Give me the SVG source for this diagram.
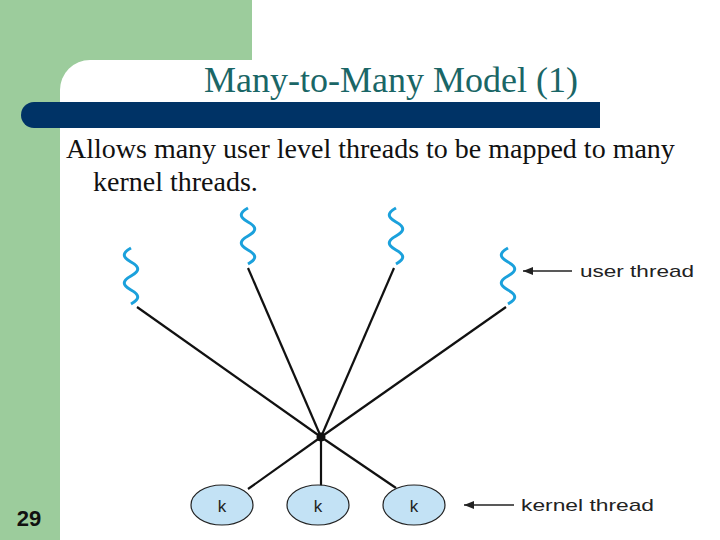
<svg xmlns="http://www.w3.org/2000/svg" width="720" height="540" viewBox="0 0 720 540">
<defs>
<style>
.sq{fill:none;stroke:#1ba1dc;stroke-width:3}
.ln{stroke:#111;stroke-width:2.2}
.kn{fill:#c3e2f5;stroke:#222;stroke-width:1.2}
.lbl{font-family:"Liberation Sans",Arial,sans-serif;font-size:17px;fill:#222}
</style>
<marker id="ah" markerWidth="10" markerHeight="8" refX="10" refY="4" orient="auto" markerUnits="userSpaceOnUse"><path d="M0,0 L10,4 L0,8 Z" fill="#222"/></marker>
<path id="w" class="sq" d="M0,0 c-9,5 -9,9 0,14 c9,5 9,9 0,14 c-9,5 -9,9 0,14 c9,5 9,9 0,14"/>
</defs>
<rect width="720" height="540" fill="#fff"/>
<rect x="0" y="0" width="252" height="60" fill="#9ccc9c"/>
<rect x="0" y="0" width="60" height="540" fill="#9ccc9c"/>
<rect x="60" y="60" width="40" height="40" fill="#9ccc9c"/>
<rect x="60" y="60" width="200" height="60" rx="30" fill="#fff"/>
<rect x="60" y="90" width="600" height="40" fill="#fff"/>
<path d="M34,102 H600 V128 H34 A13,13 0 0 1 34,102 Z" fill="#003366"/>
<text x="391" y="92" text-anchor="middle" font-family="Liberation Serif,serif" font-size="36" fill="#1a6666">Many-to-Many Model (1)</text>
<text font-family="Liberation Serif,serif" font-size="28" fill="#111"><tspan x="66" y="158">Allows many user level threads to be mapped to many</tspan><tspan x="93" y="191">kernel threads.</tspan></text>
<text x="29" y="526" text-anchor="middle" font-family="Liberation Sans,Arial,sans-serif" font-size="22" font-weight="bold" fill="#111">29</text>
<g id="connectors">
<line class="ln" x1="137" y1="307" x2="321" y2="437"/>
<line class="ln" x1="248" y1="268" x2="321" y2="437"/>
<line class="ln" x1="394" y1="268" x2="321" y2="437"/>
<line class="ln" x1="506" y1="307" x2="321" y2="437"/>
<line class="ln" x1="321" y1="437" x2="248" y2="489"/>
<line class="ln" x1="321" y1="437" x2="321" y2="486"/>
<line class="ln" x1="321" y1="437" x2="396" y2="488"/>
<circle cx="321" cy="437" r="4.5" fill="#111"/>
<line x1="572" y1="271" x2="523" y2="271" stroke="#222" stroke-width="1.5" marker-end="url(#ah)"/>
<line x1="514" y1="505" x2="464" y2="505" stroke="#222" stroke-width="1.5" marker-end="url(#ah)"/>
</g>
<g id="user-threads">
<use href="#w" x="131" y="248"/>
<use href="#w" x="248" y="208"/>
<use href="#w" x="396" y="208"/>
<use href="#w" x="508" y="248"/>
<text class="lbl" x="580" y="277" textLength="114" lengthAdjust="spacingAndGlyphs">user thread</text>
</g>
<g id="k1"><ellipse class="kn" cx="222" cy="505" rx="31" ry="20"/><text class="lbl" x="222" y="512" text-anchor="middle" font-size="20">k</text></g>
<g id="k2"><ellipse class="kn" cx="318" cy="505" rx="31" ry="20"/><text class="lbl" x="318" y="512" text-anchor="middle" font-size="20">k</text></g>
<g id="k3"><ellipse class="kn" cx="414" cy="505" rx="31" ry="20"/><text class="lbl" x="414" y="512" text-anchor="middle" font-size="20">k</text></g>
<text class="lbl" x="521" y="511" textLength="133" lengthAdjust="spacingAndGlyphs">kernel thread</text>
</svg>
